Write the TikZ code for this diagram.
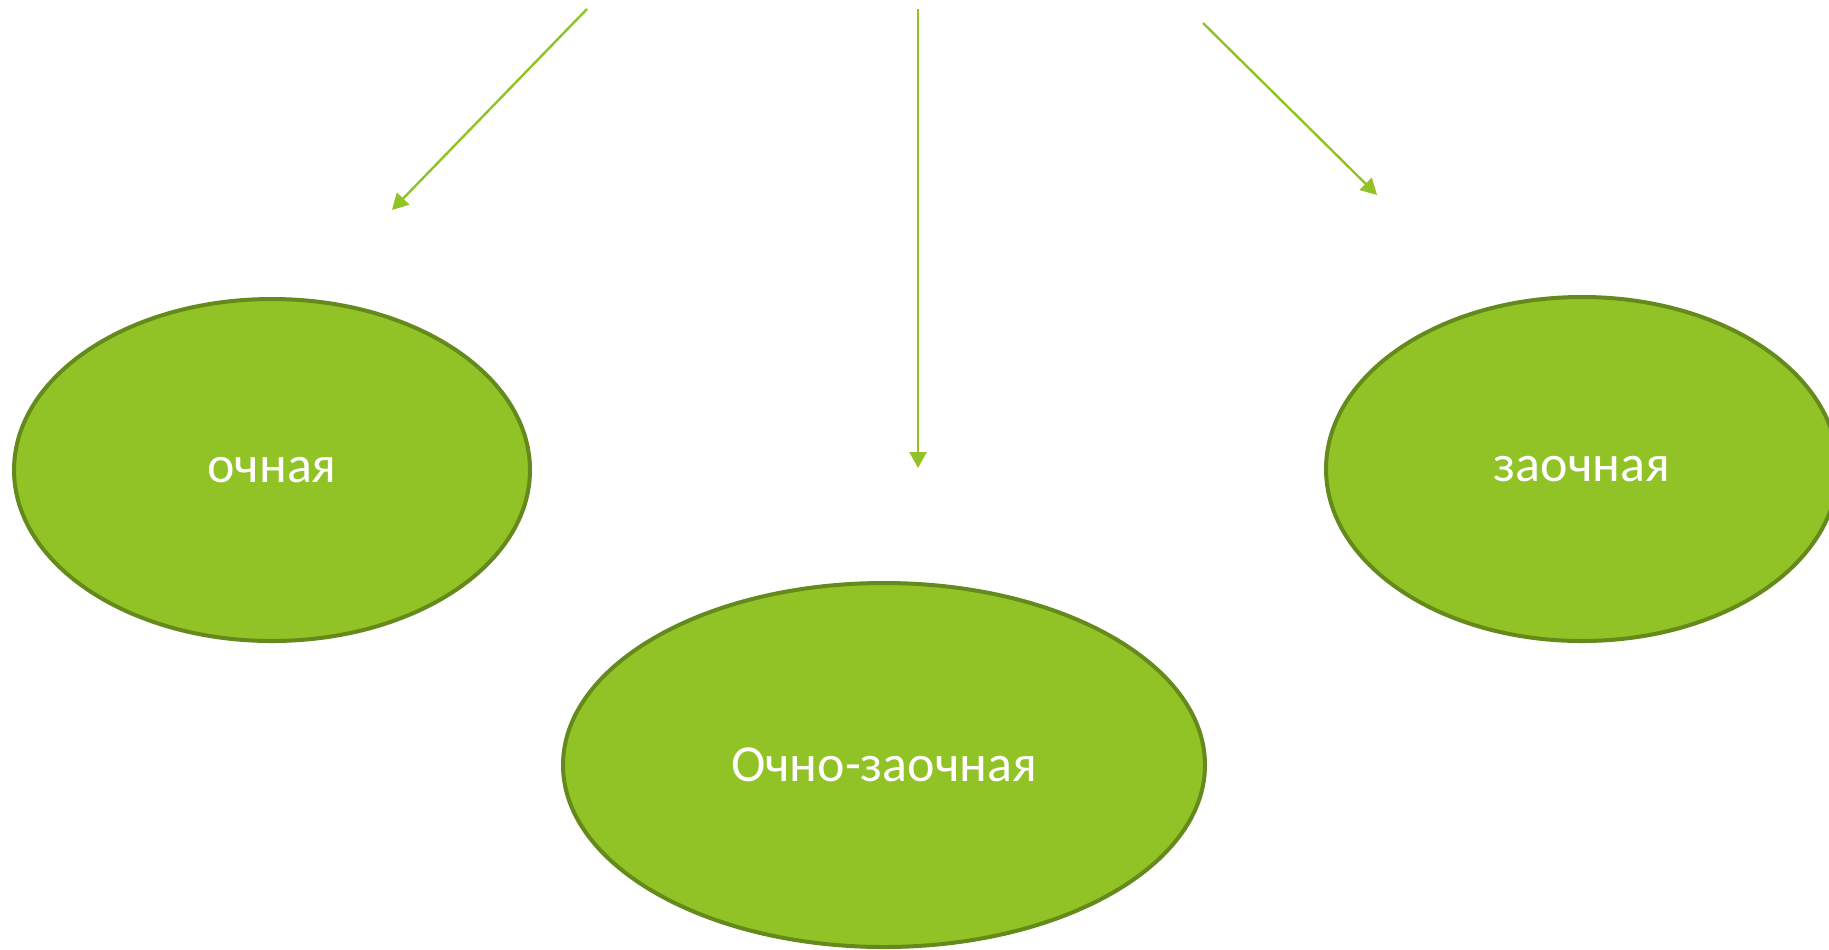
\documentclass[tikz,border=0pt]{standalone}
\usepackage{fontspec}
\setmainfont{Carlito}
\usetikzlibrary{shapes.geometric,arrows.meta}
\definecolor{leaf}{RGB}{145,194,38}
\definecolor{leafdark}{RGB}{100,138,28}
\tikzset{
  oval/.style={ellipse, draw=leafdark, fill=leaf, line width=2pt, inner sep=0pt,
    text=white, font=\fontsize{26}{30}\selectfont},
  flow/.style={draw=leaf, line width=1.2pt, -{Triangle[length=8pt,width=8.5pt]}}
}
\begin{document}
\begin{tikzpicture}[x=0.5pt,y=-0.5pt]
\clip (0,0) rectangle (1829,949);
\node[oval, minimum width=258pt, minimum height=171pt] (och) at (272,470) {\raisebox{-2pt}{очная}};
\node[oval, minimum width=256pt, minimum height=172pt] (zaoch) at (1582,469) {\raisebox{-2pt}{заочная}};
\node[oval, minimum width=321pt, minimum height=182pt] (ochzaoch) at (884,765) {Очно-заочная};
\coordinate (s1) at (587,9);
\coordinate (t1) at (392,210);
\coordinate (s2) at (918,9);
\coordinate (t2) at (918,468);
\coordinate (s3) at (1203,23);
\coordinate (t3) at (1377,195);
\draw[flow] (s1) -- (t1);
\draw[flow] (s2) -- (t2);
\draw[flow] (s3) -- (t3);
\end{tikzpicture}
\end{document}
